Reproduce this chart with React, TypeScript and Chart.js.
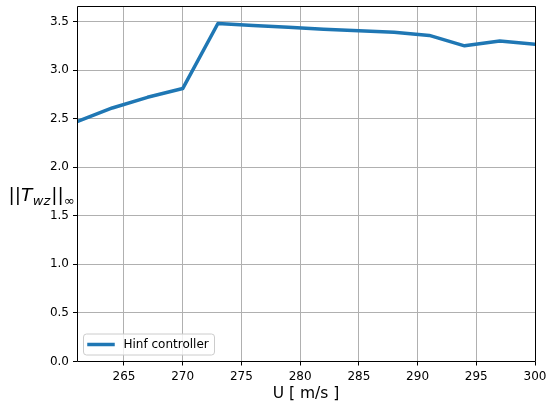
import React, { useEffect, useRef } from 'react';
import { Chart, registerables } from 'chart.js';

Chart.register(...registerables);

// ---- data ----
const uValues = [261, 264, 267, 270, 273, 276, 279, 282, 285, 288, 291, 294, 297, 300];
const hinfNorm = [2.47, 2.61, 2.72, 2.81, 3.48, 3.46, 3.44, 3.42, 3.405, 3.39, 3.357, 3.25, 3.3, 3.265];
const xTickValues = [265, 270, 275, 280, 285, 290, 295, 300];
const yTickValues = [0, 0.5, 1.0, 1.5, 2.0, 2.5, 3.0, 3.5];
const seriesLabel = 'Hinf controller';
const xAxisTitle = 'U [ m/s ]';
const xMin = 261;
const xMax = 300;
const yMin = 0;
const yMax = 3.66;

const FONT = '"DejaVu Sans", sans-serif';
const LINE_COLOR = '#1f77b4';

const align = (p: number) => Math.round(p - 0.5) + 0.5;

const framePlugin = {
  id: 'mplFrame',
  afterDraw(chart: any) {
    const { ctx, chartArea } = chart;
    const l = align(chartArea.left);
    const r = align(chartArea.right);
    const t = align(chartArea.top);
    const b = align(chartArea.bottom);
    ctx.save();
    ctx.strokeStyle = '#000';
    ctx.lineWidth = 1;
    ctx.beginPath();
    ctx.moveTo(l, t);
    ctx.lineTo(r, t);
    ctx.lineTo(r, b);
    ctx.lineTo(l, b);
    ctx.closePath();
    ctx.stroke();

    // legend (matplotlib style, lower left inside axes)
    const lx = chartArea.left + 6.5;
    const ly = chartArea.bottom - 27.5;
    const lw = 131;
    const lh = 21;
    ctx.beginPath();
    ctx.roundRect(lx, ly, lw, lh, 3);
    ctx.fillStyle = 'rgba(255,255,255,0.8)';
    ctx.fill();
    ctx.strokeStyle = '#cccccc';
    ctx.lineWidth = 1;
    ctx.stroke();
    const my = ly + lh / 2;
    ctx.beginPath();
    ctx.moveTo(lx + 5.5, my);
    ctx.lineTo(lx + 29.5, my);
    ctx.strokeStyle = LINE_COLOR;
    ctx.lineWidth = 3.5;
    ctx.lineCap = 'square';
    ctx.stroke();
    ctx.fillStyle = '#000';
    ctx.font = `12px ${FONT}`;
    ctx.textBaseline = 'middle';
    ctx.textAlign = 'left';
    ctx.fillText(seriesLabel, lx + 40, my + 0.5);

    // y label: ||T_wz||_inf (horizontal)
    const base = 201;
    let x = 8.5;
    const big = 18.5;
    const small = 13;
    ctx.textBaseline = 'alphabetic';
    ctx.font = `${big}px ${FONT}`;
    ctx.fillText('||', x, base);
    x += ctx.measureText('||').width;
    ctx.font = `italic ${big}px ${FONT}`;
    ctx.fillText('T', x, base);
    x += ctx.measureText('T').width + 0.5;
    ctx.font = `italic ${small}px ${FONT}`;
    ctx.fillText('wz', x, base + 3.5);
    x += ctx.measureText('wz').width + 1;
    ctx.font = `${big}px ${FONT}`;
    ctx.fillText('||', x, base);
    x += ctx.measureText('||').width;
    ctx.font = `${small}px ${FONT}`;
    ctx.fillText('\u221E', x, base + 3.5);
    ctx.restore();
  },
};

export default function App() {
  const ref = useRef<HTMLCanvasElement | null>(null);

  useEffect(() => {
    document.body.style.margin = '0';
    const canvas = ref.current;
    if (!canvas) return;
    const chart = new Chart(canvas, {
      type: 'line',
      data: {
        datasets: [
          {
            label: seriesLabel,
            data: uValues.map((u, i) => ({ x: u, y: hinfNorm[i] })),
            borderColor: LINE_COLOR,
            backgroundColor: LINE_COLOR,
            borderWidth: 3.5,
            pointRadius: 0,
            pointHoverRadius: 0,
            tension: 0,
            borderJoinStyle: 'round',
            borderCapStyle: 'square',
            fill: false,
            clip: 0,
          } as any,
        ],
      },
      options: {
        animation: false,
        responsive: false,
        devicePixelRatio: 1,
        events: [],
        layout: { padding: { top: 6, right: 15, left: 0, bottom: 0 } },
        plugins: {
          legend: { display: false },
          tooltip: { enabled: false },
        },
        scales: {
          x: {
            type: 'linear',
            min: xMin,
            max: xMax,
            afterBuildTicks: (s: any) => {
              s.ticks = xTickValues.map((v) => ({ value: v }));
            },
            afterFit: (s: any) => {
              s.height = 47.5;
              s.paddingLeft = 0;
              s.paddingRight = 0;
            },
            ticks: {
              color: '#000',
              font: { family: FONT, size: 12 },
              padding: 4,
              maxRotation: 0,
              autoSkip: false,
              callback: (v: any) => String(v),
            },
            grid: {
              color: '#b0b0b0',
              lineWidth: 1,
              tickColor: '#000',
              tickLength: 4,
              drawTicks: true,
            },
            border: { display: false },
            title: {
              display: true,
              text: xAxisTitle,
              color: '#000',
              font: { family: FONT, size: 15.5 },
              padding: { top: 0, bottom: 6 },
            },
          },
          y: {
            type: 'linear',
            min: yMin,
            max: yMax,
            afterBuildTicks: (s: any) => {
              s.ticks = yTickValues.map((v) => ({ value: v }));
            },
            afterFit: (s: any) => {
              s.width = 77;
              s.paddingTop = 0;
              s.paddingBottom = 0;
            },
            ticks: {
              color: '#000',
              font: { family: FONT, size: 12 },
              padding: 4,
              autoSkip: false,
              callback: (v: any) => Number(v).toFixed(1),
            },
            grid: {
              color: '#b0b0b0',
              lineWidth: 1,
              tickColor: '#000',
              tickLength: 4,
              drawTicks: true,
            },
            border: { display: false },
          },
        },
      },
      plugins: [framePlugin],
    } as any);
    return () => chart.destroy();
  }, []);

  return (
    <div style={{ position: 'absolute', left: 0, top: 0, width: 550, height: 409, background: '#fff' }}>
      <canvas ref={ref} width={550} height={409} style={{ display: 'block' }} />
    </div>
  );
}
